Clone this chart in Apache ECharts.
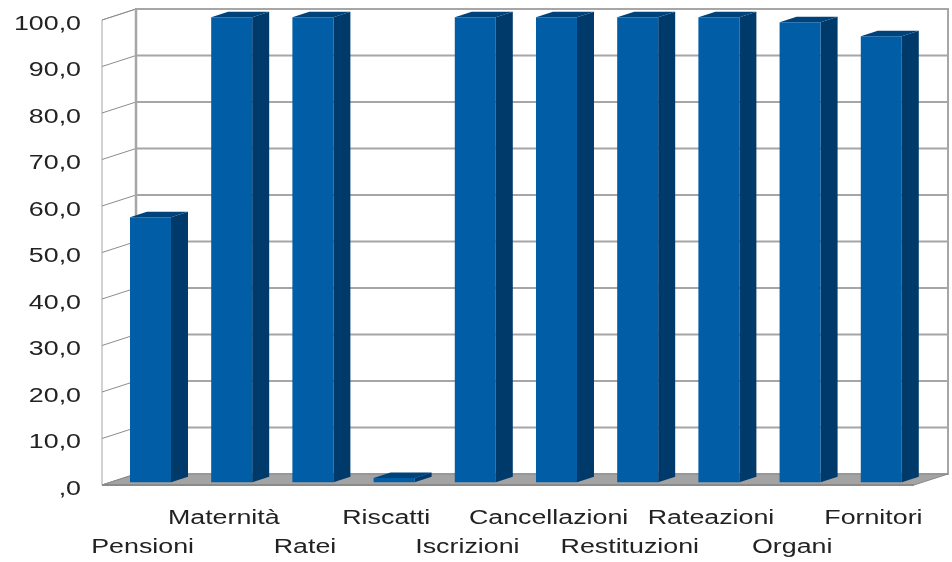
<!DOCTYPE html>
<html>
<head>
<meta charset="utf-8">
<script src="https://cdn.jsdelivr.net/npm/echarts@6/dist/echarts.min.js"></script>
<style>
  html, body { margin: 0; padding: 0; background: #fff; }
  #chart { width: 952px; height: 562px; }
</style>
</head>
<body>
<div id="chart"></div>
<script>
const categories = ["Pensioni", "Maternità", "Ratei", "Riscatti", "Iscrizioni", "Cancellazioni", "Restituzioni", "Rateazioni", "Organi", "Fornitori"];
const values = [57.0, 100, 100, 0.9, 100, 100, 100, 100, 98.9, 95.9];
const yTicks = [0, 10, 20, 30, 40, 50, 60, 70, 80, 90, 100];
const yTickLabels = [",0", "10,0", "20,0", "30,0", "40,0", "50,0", "60,0", "70,0", "80,0", "90,0", "100,0"];

// 3D look: depth offset of the back plane
const DX = 34, DY = 11;
const TEXT_SCALE = 1.34;
const FONT = "'Liberation Sans', Arial, sans-serif";

const chart = echarts.init(document.getElementById("chart"));

function backX(x, z) { return x + DX * z; }
function backY(y, z) { return y - DY * z; }

// walls, floor and gridlines
function renderWalls(params, api) {
  const n = categories.length;
  const bw = api.size([1, 0])[0];
  const p0 = api.coord([0, 0]);
  const p1 = api.coord([n - 1, 100]);
  const xL = p0[0] - bw / 2, xR = p1[0] + bw / 2;
  const yB = p0[1], yT = p1[1];
  const kids = [];
  // back wall
  kids.push({ type: "rect", shape: { x: xL + DX, y: yT - DY, width: xR - xL, height: yB - yT },
    style: { fill: "#fff", stroke: "#a6a6a6", lineWidth: 2 } });
  // left wall
  kids.push({ type: "polygon", shape: { points: [[xL, yB], [xL, yT], [xL + DX, yT - DY], [xL + DX, yB - DY]] },
    style: { fill: "#fff", stroke: "#a6a6a6", lineWidth: 1 } });
  yTicks.forEach(function (t) {
    const y = api.coord([0, t])[1];
    if (t > 0 && t < 100) {
      kids.push({ type: "line", shape: { x1: xL + DX, y1: y - DY, x2: xR + DX, y2: y - DY },
        style: { stroke: "#a6a6a6", lineWidth: 2 } });
    }
    kids.push({ type: "line", shape: { x1: xL, y1: y, x2: xL + DX, y2: y - DY },
      style: { stroke: "#8c8c8c", lineWidth: 1 } });
  });
  // back-left edge
  kids.push({ type: "line", shape: { x1: xL + DX, y1: yB - DY, x2: xL + DX, y2: yT - DY },
    style: { stroke: "#a6a6a6", lineWidth: 2.5 } });
  // floor
  kids.push({ type: "polygon", shape: { points: [[xL, yB], [xR, yB], [xR + DX, yB - DY], [xL + DX, yB - DY]] },
    style: { fill: "#a3a3a3", stroke: "#8a8a8a", lineWidth: 1 } });
  kids.push({ type: "line", shape: { x1: xL, y1: yB, x2: xR, y2: yB },
    style: { stroke: "#8a8a8a", lineWidth: 2 } });
  return { type: "group", children: kids };
}

function renderBar(params, api) {
  const i = api.value(0), v = api.value(1);
  const bw = api.size([1, 0])[0];
  const c0 = api.coord([i, 0]);
  const c1 = api.coord([i, v]);
  const zf = 0.25, zb = 0.75;
  const left = c0[0] - bw / 2 + 0.24 * bw;
  const right = left + 0.505 * bw;
  const xl = backX(left, zf), xr = backX(right, zf);
  const yTop = backY(c1[1], zf), yBot = backY(c0[1], zf);
  const ox = DX * (zb - zf), oy = DY * (zb - zf);
  return {
    type: "group",
    children: [
      { type: "polygon", shape: { points: [[xr, yTop], [xr + ox, yTop - oy], [xr + ox, yBot - oy], [xr, yBot]] },
        style: { fill: "#003a6b" } },
      { type: "polygon", shape: { points: [[xl, yTop], [xl + ox, yTop - oy], [xr + ox, yTop - oy], [xr, yTop]] },
        style: { fill: "#00427a" } },
      { type: "rect", shape: { x: xl, y: yTop, width: xr - xl, height: yBot - yTop },
        style: { fill: "#005da6" } }
    ]
  };
}

function renderCatLabel(params, api) {
  const i = api.value(0);
  const c = api.coord([i, 0]);
  const y = c[1] + (i % 2 === 0 ? 62 : 33);
  return { type: "text", x: c[0], y: y, scaleX: TEXT_SCALE,
    style: { text: categories[i], fill: "#222", font: "20px " + FONT, align: "center", verticalAlign: "middle" } };
}

function renderTickLabel(params, api) {
  const t = api.value(1);
  const bw = api.size([1, 0])[0];
  const c = api.coord([0, t]);
  return { type: "text", x: c[0] - bw / 2 - 21, y: c[1] + 4, scaleX: TEXT_SCALE,
    style: { text: yTickLabels[params.dataIndex], fill: "#222", font: "20px " + FONT, align: "right", verticalAlign: "middle" } };
}

chart.setOption({
  animation: false,
  backgroundColor: "#fff",
  grid: { left: 102, right: 38, top: 20, bottom: 77 },
  xAxis: {
    type: "category",
    data: categories,
    axisLine: { show: false },
    axisTick: { show: false },
    axisLabel: { show: false }
  },
  yAxis: {
    type: "value",
    min: 0, max: 100, interval: 10,
    axisLine: { show: false },
    axisTick: { show: false },
    axisLabel: { show: false },
    splitLine: { show: false }
  },
  series: [
    { type: "custom", renderItem: renderWalls, data: [[0, 0]], silent: true, z: 1 },
    { type: "custom", renderItem: renderBar, data: values.map(function (v, i) { return [i, v]; }), z: 2 },
    { type: "custom", renderItem: renderCatLabel, data: categories.map(function (c, i) { return [i, 0]; }), silent: true, z: 3 },
    { type: "custom", renderItem: renderTickLabel, data: yTicks.map(function (t) { return [0, t]; }), silent: true, z: 3 }
  ]
});
</script>
</body>
</html>
